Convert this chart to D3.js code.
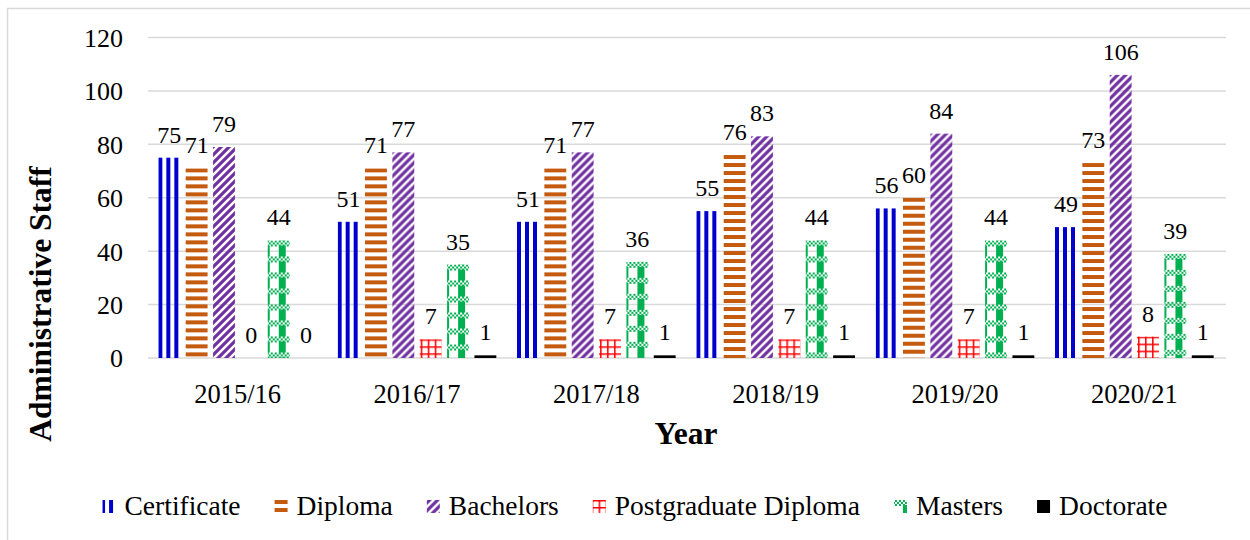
<!DOCTYPE html>
<html>
<head>
<meta charset="utf-8">
<script src="https://cdn.jsdelivr.net/npm/d3@7"></script>
<style>
  body { margin: 0; background: #fff; }
  svg { display: block; }
  svg text { font-family: "Liberation Serif", "Times New Roman", serif; }
</style>
</head>
<body>
<div id="chart"></div>
<script>
const years = ["2015/16", "2016/17", "2017/18", "2018/19", "2019/20", "2020/21"];
const seriesNames = ["Certificate", "Diploma", "Bachelors", "Postgraduate Diploma", "Masters", "Doctorate"];
const certificate = [75, 51, 51, 55, 56, 49];
const diploma = [71, 71, 71, 76, 60, 73];
const bachelors = [79, 77, 77, 83, 84, 106];
const postgraduate = [0, 7, 7, 7, 7, 8];
const masters = [44, 35, 36, 44, 44, 39];
const doctorate = [0, 1, 1, 1, 1, 1];
const yTicks = [0, 20, 40, 60, 80, 100, 120];

const seriesValues = [certificate, diploma, bachelors, postgraduate, masters, doctorate];
const colors = ["#0000CC", "#C55A11", "#7030A0", "#FF0000", "#00B050", "#000000"];
const serif = "'Liberation Serif', 'Times New Roman', serif";

const width = 1250, height = 540;
const margin = { left: 148, right: 24, top: 37.5, bottom: 182 };

const svg = d3.select("#chart").append("svg")
    .attr("width", width)
    .attr("height", height)
    .attr("font-family", serif);
const defs = svg.append("defs");

// chart border (only top/left fall inside the window)
svg.append("rect")
    .attr("x", 7.5).attr("y", 8.5)
    .attr("width", 1300).attr("height", 600)
    .attr("fill", "none")
    .attr("stroke", "#D9D9D9")
    .attr("stroke-width", 1.5);

const x0 = d3.scaleBand()
    .domain(years)
    .range([margin.left, width - margin.right - 2])
    .paddingInner(0.1)
    .paddingOuter(0.05);

const x1 = d3.scaleBand()
    .domain(seriesNames)
    .range([0, x0.bandwidth()])
    .paddingInner(0.2)
    .paddingOuter(0.05);

const y = d3.scaleLinear()
    .domain([0, 120])
    .range([height - margin.bottom, margin.top]);

// fill patterns, one per mark so the texture lines up with the bar edge
function makePattern(id, s, px, py) {
    const p = defs.append("pattern")
        .attr("id", id)
        .attr("patternUnits", "userSpaceOnUse");
    const c = colors[s];
    if (s === 0) {
        p.attr("width", 8).attr("height", 8).attr("x", px).attr("y", py);
        p.append("rect").attr("width", 4).attr("height", 8).attr("fill", c);
    } else if (s === 1) {
        p.attr("width", 8).attr("height", 8).attr("x", px).attr("y", py);
        p.append("rect").attr("width", 8).attr("height", 4).attr("fill", c);
    } else if (s === 2) {
        p.attr("width", 8).attr("height", 8).attr("x", px).attr("y", py);
        p.append("path")
            .attr("d", "M-2,2L2,-2M0,8L8,0M6,10L10,6")
            .attr("stroke", c).attr("stroke-width", 3.2);
    } else if (s === 3) {
        p.attr("width", 7).attr("height", 7).attr("x", px + 1).attr("y", py);
        p.append("path")
            .attr("d", "M0,0.75H7M0.75,0V7")
            .attr("stroke", c).attr("stroke-width", 1.6);
    } else if (s === 4) {
        p.attr("width", 16).attr("height", 16).attr("x", px + 11).attr("y", py);
        p.append("rect").attr("x", 0).attr("y", 5).attr("width", 7).attr("height", 11).attr("fill", c);
        for (let cy = 0; cy < 3; cy++) {
            for (let cx = 0; cx < 8; cx++) {
                if ((cx + cy) % 2 === 0) {
                    p.append("rect")
                        .attr("x", cx * 2).attr("y", cy * 2)
                        .attr("width", 2).attr("height", 2)
                        .attr("fill", c);
                }
            }
        }
    } else {
        p.attr("width", 8).attr("height", 8);
        p.append("rect").attr("width", 8).attr("height", 8).attr("fill", c);
    }
    return `url(#${id})`;
}

// gridlines
svg.append("g")
    .selectAll("line")
    .data(yTicks)
    .join("line")
    .attr("x1", margin.left)
    .attr("x2", width - margin.right)
    .attr("y1", d => y(d))
    .attr("y2", d => y(d))
    .attr("stroke", "#D9D9D9")
    .attr("stroke-width", 1.5);

// y axis labels
const yAxis = svg.append("g")
    .attr("transform", `translate(${margin.left - 25},0)`)
    .call(d3.axisLeft(y).tickValues(yTicks).tickSize(0).tickPadding(0));
yAxis.attr("font-family", serif).attr("font-size", 26);
yAxis.select(".domain").remove();
yAxis.selectAll("text")
    .attr("fill", "#000")
    .attr("dy", "0.34em");

// x axis labels
const xAxis = svg.append("g")
    .attr("transform", `translate(0,${y(0)})`)
    .call(d3.axisBottom(x0).tickSize(0).tickPadding(0));
xAxis.attr("font-family", serif).attr("font-size", 26.5);
xAxis.select(".domain").remove();
xAxis.selectAll("text")
    .attr("fill", "#000")
    .attr("dy", null)
    .attr("y", 45);

// bars
const bars = [];
years.forEach((yr, j) => {
    seriesNames.forEach((name, s) => {
        bars.push({ year: yr, j: j, s: s, name: name, value: seriesValues[s][j] });
    });
});

svg.append("g")
    .selectAll("rect")
    .data(bars.filter(d => d.value > 0))
    .join("rect")
    .attr("x", d => x0(d.year) + x1(d.name))
    .attr("y", d => y(d.value))
    .attr("width", x1.bandwidth())
    .attr("height", d => y(0) - y(d.value))
    .attr("fill", d => makePattern(`p${d.s}_${d.j}`, d.s, x0(d.year) + x1(d.name), y(d.value)));

// value labels
svg.append("g")
    .attr("font-family", serif)
    .attr("font-size", 24)
    .selectAll("text")
    .data(bars)
    .join("text")
    .attr("x", d => x0(d.year) + x1(d.name) + x1.bandwidth() / 2)
    .attr("y", d => y(d.value) - 15)
    .attr("text-anchor", "middle")
    .attr("fill", "#000")
    .text(d => d.value);

// axis titles
svg.append("text")
    .attr("transform", `translate(51,304) rotate(-90)`)
    .attr("text-anchor", "middle")
    .attr("font-size", 31.5)
    .attr("font-weight", "bold")
    .text("Administrative Staff");

svg.append("text")
    .attr("x", 686)
    .attr("y", 444)
    .attr("text-anchor", "middle")
    .attr("font-size", 31.5)
    .attr("font-weight", "bold")
    .text("Year");

// legend
const legend = svg.append("g").attr("font-family", serif).attr("font-size", 27.5);
const items = legend.selectAll("g")
    .data(seriesNames)
    .join("g");
items.append("text")
    .attr("x", 22)
    .attr("y", 515)
    .attr("fill", "#000")
    .text(d => d);

let lx = 0;
const gap = 34;
const offsets = [];
items.each(function() {
    offsets.push(lx);
    lx += 22 + this.querySelector("text").getComputedTextLength() + gap;
});
const legendWidth = lx - gap;
const legendStart = 635 - legendWidth / 2;
items.attr("transform", (d, i) => `translate(${legendStart + offsets[i]},0)`);
items.insert("rect", "text")
    .attr("x", 0)
    .attr("y", 500)
    .attr("width", 13)
    .attr("height", 13)
    .attr("fill", (d, i) => makePattern(`lg${i}`, i, legendStart + offsets[i], 500));
</script>
</body>
</html>
